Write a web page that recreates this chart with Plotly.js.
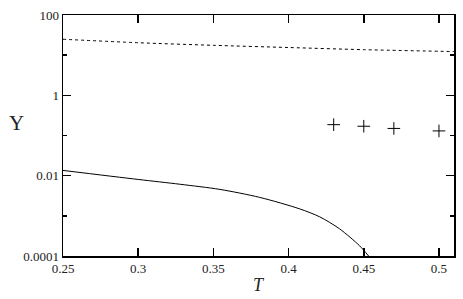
<!DOCTYPE html>
<html>
<head>
<meta charset="utf-8">
<script src="https://cdn.plot.ly/plotly-3.0.1.min.js"></script>
<style>html,body{margin:0;padding:0;background:#fff}#chart{width:463px;height:299px}</style>
</head>
<body>
<div id="chart"></div>
<script>
// Dashed curve
const dashT = [0.25, 0.30, 0.35, 0.40, 0.45, 0.51];
const dashY = [24.9, 20.4, 17.6, 15.5, 13.7, 12.3];
// Solid curve
const solidT = [0.25, 0.30, 0.3277, 0.3543, 0.3808, 0.4074, 0.4207, 0.4339, 0.4472, 0.4532];
const solidY = [0.0135, 0.00805, 0.00612, 0.00455, 0.00288, 0.00149, 0.000944, 0.000475, 0.00018, 0.0001];
// Plus markers
const ptsT = [0.43, 0.45, 0.47, 0.50];
const ptsY = [0.186, 0.17, 0.15, 0.13];
// Tick labels
const xTicks = [0.25, 0.3, 0.35, 0.4, 0.45, 0.5];
const xTickText = ['0.25', '0.3', '0.35', '0.4', '0.45', '0.5'];
const yTicks = [0.0001, 0.01, 1, 100];
const yTickText = ['0.0001', '0.01', '1', '100'];
const yMinor = [0.001, 0.1, 10];

const fam = 'Liberation Serif, Times New Roman, DejaVu Serif, serif';
const font = {family: fam, size: 13, color: '#222'};

const traces = [
  {x: dashT, y: dashY, mode: 'lines', line: {color: '#000', width: 1, dash: '3px,3px', shape: 'spline', smoothing: 0.8}, hoverinfo: 'skip'},
  {x: solidT, y: solidY, mode: 'lines', line: {color: '#000', width: 1, shape: 'spline', smoothing: 0.8}, hoverinfo: 'skip'},
  {x: ptsT, y: ptsY, mode: 'markers', marker: {symbol: 'cross-thin-open', size: 9, color: '#000', line: {color: '#000', width: 1}}, hoverinfo: 'skip'}
];

const layout = {
  width: 463, height: 299,
  margin: {l: 63, r: 9, t: 15, b: 43},
  paper_bgcolor: '#fff', plot_bgcolor: '#fff',
  showlegend: false,
  font: font,
  xaxis: {
    range: [0.25, 0.51], tickmode: 'array', tickvals: xTicks, ticktext: xTickText,
    ticks: 'inside', ticklen: 8, tickwidth: 1.5, tickcolor: '#000',
    showline: true, linecolor: '#000', linewidth: 1.5, mirror: 'ticks',
    showgrid: false, zeroline: false, tickfont: font
  },
  yaxis: {
    type: 'log', range: [-4, 2], tickmode: 'array', tickvals: yTicks, ticktext: yTickText,
    ticks: 'inside', ticklen: 8, tickwidth: 1.5, tickcolor: '#000',
    minor: {tickmode: 'array', tickvals: yMinor, ticks: 'inside', ticklen: 4, tickwidth: 1.5, tickcolor: '#000', showgrid: false},
    showline: true, linecolor: '#000', linewidth: 1.5, mirror: 'ticks',
    showgrid: false, zeroline: false, tickfont: font
  },
  annotations: [
    {text: 'Υ', xref: 'paper', yref: 'paper', x: -0.119, y: 0.552, xanchor: 'center', yanchor: 'middle', showarrow: false,
     font: {family: fam, size: 21, color: '#222'}},
    {text: '<i>T</i>', xref: 'paper', yref: 'paper', x: 0.5, y: -0.172, xanchor: 'center', yanchor: 'bottom', showarrow: false,
     font: {family: fam, size: 18, color: '#222'}}
  ]
};

Plotly.newPlot('chart', traces, layout, {displayModeBar: false, staticPlot: true});
</script>
</body>
</html>
